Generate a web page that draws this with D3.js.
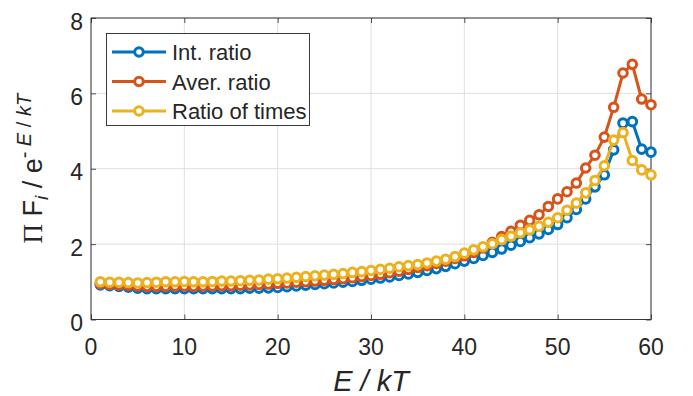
<!DOCTYPE html>
<html>
<head>
<meta charset="utf-8">
<script src="https://cdn.jsdelivr.net/npm/d3@7"></script>
<style>
  html, body { margin: 0; padding: 0; background: #ffffff; }
  svg { display: block; }
  text { font-family: "Liberation Sans", Arial, Helvetica, sans-serif; fill: #262626; }
</style>
</head>
<body>
<svg id="chart" width="693" height="396"></svg>
<script>
// ---- data ----
const energies = [1,2,3,4,5,6,7,8,9,10,11,12,13,14,15,16,17,18,19,20,
  21,22,23,24,25,26,27,28,29,30,31,32,33,34,35,36,37,38,39,40,
  41,42,43,44,45,46,47,48,49,50,51,52,53,54,55,56,57,58,59,60];

const intRatio = [0.92,0.90,0.88,0.86,0.83,0.82,0.82,0.82,0.82,0.82,
  0.82,0.82,0.82,0.82,0.82,0.82,0.83,0.83,0.84,0.85,
  0.87,0.89,0.91,0.93,0.95,0.97,0.99,1.01,1.04,1.07,
  1.10,1.13,1.17,1.21,1.25,1.30,1.35,1.41,1.48,1.55,
  1.62,1.70,1.78,1.87,1.97,2.07,2.17,2.27,2.39,2.52,
  2.70,2.92,3.20,3.52,3.84,4.50,5.21,5.25,4.52,4.44];

const averRatio = [0.95,0.93,0.92,0.91,0.89,0.88,0.88,0.88,0.89,0.89,
  0.88,0.89,0.89,0.90,0.90,0.91,0.92,0.93,0.94,0.96,
  0.97,0.99,1.00,1.02,1.04,1.06,1.08,1.11,1.14,1.17,
  1.20,1.24,1.28,1.33,1.38,1.43,1.49,1.55,1.62,1.69,
  1.78,1.90,2.05,2.20,2.34,2.50,2.63,2.78,3.00,3.20,
  3.39,3.62,4.02,4.36,4.84,5.63,6.54,6.77,5.85,5.70];

const timesRatio = [1.00,0.99,0.99,0.98,0.97,0.98,0.99,1.00,1.00,1.01,
  1.00,1.00,1.01,1.02,1.02,1.03,1.04,1.05,1.07,1.08,
  1.10,1.12,1.14,1.16,1.18,1.20,1.22,1.25,1.27,1.30,
  1.33,1.36,1.40,1.43,1.46,1.50,1.55,1.60,1.67,1.76,
  1.85,1.93,2.01,2.12,2.21,2.30,2.38,2.47,2.58,2.70,
  2.90,3.09,3.36,3.69,4.08,4.76,4.96,4.22,3.97,3.84];

const seriesNames = ["Int. ratio", "Aver. ratio", "Ratio of times"];
const seriesColors = ["#0072BD", "#D95319", "#EDB120"];
const xTicks = [0, 10, 20, 30, 40, 50, 60];
const yTicks = [0, 2, 4, 6, 8];

// ---- layout ----
const svg = d3.select("#chart");
const L = 91, R = 651, T = 18, B = 319.5;
const x = d3.scaleLinear().domain([0, 60]).range([L, R]);
const y = d3.scaleLinear().domain([0, 8]).range([B, T]);

// grid
const grid = svg.append("g");
grid.selectAll("line.gx").data(xTicks).join("line")
  .attr("x1", d => x(d)).attr("x2", d => x(d)).attr("y1", T).attr("y2", B)
  .attr("stroke", "#dedede").attr("stroke-width", 1);
grid.selectAll("line.gy").data(yTicks).join("line")
  .attr("y1", d => y(d)).attr("y2", d => y(d)).attr("x1", L).attr("x2", R)
  .attr("stroke", "#dedede").attr("stroke-width", 1);

// axes with inward ticks
const axisColor = "#262626";
function styleAxis(g) {
  g.select(".domain").remove();
  g.selectAll(".tick line").attr("stroke", axisColor).attr("stroke-width", 0.8);
}
svg.append("g").attr("transform", `translate(0,${B})`)
  .call(d3.axisBottom(x).tickValues(xTicks).tickSize(-5).tickFormat(d3.format("d")))
  .call(styleAxis)
  .call(g => g.selectAll(".tick text").remove());
svg.append("g").attr("transform", `translate(0,${T})`)
  .call(d3.axisTop(x).tickValues(xTicks).tickSize(-5).tickFormat(""))
  .call(styleAxis);
svg.append("g").attr("transform", `translate(${L},0)`)
  .call(d3.axisLeft(y).tickValues(yTicks).tickSize(-5).tickFormat(""))
  .call(styleAxis);
svg.append("g").attr("transform", `translate(${R},0)`)
  .call(d3.axisRight(y).tickValues(yTicks).tickSize(-5).tickFormat(""))
  .call(styleAxis);

// tick labels
svg.append("g").selectAll("text").data(xTicks).join("text")
  .attr("x", d => x(d)).attr("y", 355).attr("text-anchor", "middle")
  .attr("font-size", 23).text(d => d);
svg.append("g").selectAll("text").data(yTicks).join("text")
  .attr("x", 83).attr("y", d => y(d) + 11.5).attr("text-anchor", "end")
  .attr("font-size", 23).text(d => d);

// box
svg.append("rect").attr("x", L).attr("y", T).attr("width", R - L).attr("height", B - T)
  .attr("fill", "none").attr("stroke", axisColor).attr("stroke-width", 0.9);

// series
const allSeries = [intRatio, averRatio, timesRatio];
const line = d3.line().x(d => x(d[0])).y(d => y(d[1]));
allSeries.forEach((vals, i) => {
  const pts = energies.map((e, j) => [e, vals[j]]);
  const g = svg.append("g");
  g.append("path").datum(pts).attr("d", line)
    .attr("fill", "none").attr("stroke", seriesColors[i]).attr("stroke-width", 3)
    .attr("stroke-linejoin", "round");
  g.selectAll("circle").data(pts).join("circle")
    .attr("cx", d => x(d[0])).attr("cy", d => y(d[1])).attr("r", 4.3)
    .attr("fill", "#ffffff").attr("stroke", seriesColors[i]).attr("stroke-width", 3);
});

// legend
const lg = svg.append("g");
lg.append("rect").attr("x", 106.5).attr("y", 33.5).attr("width", 203).attr("height", 92)
  .attr("fill", "#ffffff").attr("stroke", axisColor).attr("stroke-width", 0.9);
const rowY = [52, 81.5, 111];
seriesNames.forEach((name, i) => {
  lg.append("line").attr("x1", 112).attr("x2", 166).attr("y1", rowY[i]).attr("y2", rowY[i])
    .attr("stroke", seriesColors[i]).attr("stroke-width", 3);
  lg.append("circle").attr("cx", 139).attr("cy", rowY[i]).attr("r", 4.3)
    .attr("fill", "#ffffff").attr("stroke", seriesColors[i]).attr("stroke-width", 3);
  lg.append("text").attr("x", 172).attr("y", rowY[i] + 8).attr("font-size", 22).text(name);
});

// x label
svg.append("text").attr("x", (L + R) / 2).attr("y", 391).attr("text-anchor", "middle")
  .attr("font-size", 29).attr("font-style", "italic").text("E / kT");

// y label
const yl = svg.append("text")
  .attr("transform", `translate(42,${(T + B) / 2}) rotate(-90)`)
  .attr("text-anchor", "middle").attr("font-size", 27);
yl.append("tspan").attr("font-family", "Liberation Serif, Times New Roman, serif").text("Π");
yl.append("tspan").text(" F");
yl.append("tspan").attr("font-style", "italic").attr("font-size", 19).attr("dy", 6).text("i");
yl.append("tspan").attr("dy", -6).text(" / e");
yl.append("tspan").attr("font-size", 20).attr("dy", -11).text("- ");
yl.append("tspan").attr("font-size", 20).attr("font-style", "italic").text("E");
yl.append("tspan").attr("font-size", 20).text(" / ");
yl.append("tspan").attr("font-size", 20).attr("font-style", "italic").text("kT");
</script>
</body>
</html>
